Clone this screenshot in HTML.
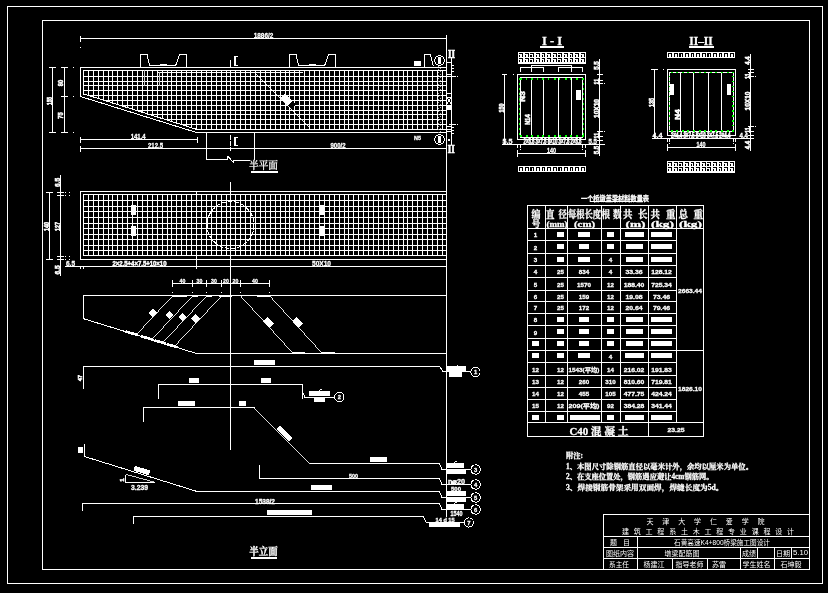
<!DOCTYPE html>
<html lang="zh"><head><meta charset="utf-8"><title>墩梁配筋图</title>
<style>
html,body{margin:0;padding:0;background:#000;overflow:hidden}
svg{display:block}
text{font-family:"Liberation Sans","Noto Sans CJK SC",sans-serif;fill:#fff;white-space:pre}
text.s{font-family:"Liberation Serif","Noto Serif CJK SC",serif}
text.b{font-weight:bold;stroke:#fff;stroke-width:.3px}
text.m{font-weight:500;stroke:#fff;stroke-width:.25px}
</style></head><body>
<svg width="828" height="593" viewBox="0 0 828 593">
<rect width="828" height="593" fill="#000"/>
<g fill="#fff" shape-rendering="crispEdges">
<rect x="7" y="6" width="816" height="1"/>
<rect x="7" y="583" width="816" height="1"/>
<rect x="7" y="6" width="1" height="578"/>
<rect x="822" y="6" width="1" height="578"/>
<rect x="42" y="20" width="768" height="1"/>
<rect x="42" y="569" width="768" height="1"/>
<rect x="42" y="20" width="1" height="550"/>
<rect x="809" y="20" width="1" height="550"/>
<rect x="80" y="38" width="367" height="1"/>
<rect x="80" y="36" width="1" height="6"/>
<rect x="80" y="47" width="1" height="1"/>
<rect x="80" y="67" width="367" height="1"/>
<rect x="80" y="67" width="1" height="30"/>
<rect x="196" y="132" width="251" height="1"/>
<rect x="83" y="70" width="1" height="25"/>
<rect x="88" y="70" width="1" height="26"/>
<rect x="93" y="70" width="1" height="28"/>
<rect x="98" y="70" width="1" height="29"/>
<rect x="103" y="70" width="1" height="31"/>
<rect x="108" y="70" width="1" height="32"/>
<rect x="112" y="70" width="1" height="34"/>
<rect x="117" y="70" width="1" height="35"/>
<rect x="122" y="70" width="1" height="37"/>
<rect x="127" y="70" width="1" height="38"/>
<rect x="132" y="70" width="1" height="40"/>
<rect x="137" y="70" width="1" height="41"/>
<rect x="142" y="70" width="1" height="43"/>
<rect x="147" y="70" width="1" height="45"/>
<rect x="152" y="70" width="1" height="46"/>
<rect x="157" y="70" width="1" height="48"/>
<rect x="162" y="70" width="1" height="49"/>
<rect x="167" y="70" width="1" height="51"/>
<rect x="171" y="70" width="1" height="52"/>
<rect x="176" y="70" width="1" height="54"/>
<rect x="181" y="70" width="1" height="55"/>
<rect x="186" y="70" width="1" height="57"/>
<rect x="191" y="70" width="1" height="58"/>
<rect x="196" y="70" width="1" height="60"/>
<rect x="201" y="70" width="1" height="60"/>
<rect x="206" y="70" width="1" height="60"/>
<rect x="211" y="70" width="1" height="60"/>
<rect x="216" y="70" width="1" height="60"/>
<rect x="221" y="70" width="1" height="60"/>
<rect x="226" y="70" width="1" height="60"/>
<rect x="230" y="70" width="1" height="60"/>
<rect x="235" y="70" width="1" height="60"/>
<rect x="240" y="70" width="1" height="60"/>
<rect x="245" y="70" width="1" height="60"/>
<rect x="250" y="70" width="1" height="60"/>
<rect x="255" y="70" width="1" height="60"/>
<rect x="260" y="70" width="1" height="60"/>
<rect x="265" y="70" width="1" height="60"/>
<rect x="270" y="70" width="1" height="60"/>
<rect x="275" y="70" width="1" height="60"/>
<rect x="280" y="70" width="1" height="60"/>
<rect x="285" y="70" width="1" height="60"/>
<rect x="289" y="70" width="1" height="60"/>
<rect x="294" y="70" width="1" height="60"/>
<rect x="299" y="70" width="1" height="60"/>
<rect x="304" y="70" width="1" height="60"/>
<rect x="309" y="70" width="1" height="60"/>
<rect x="314" y="70" width="1" height="60"/>
<rect x="319" y="70" width="1" height="60"/>
<rect x="324" y="70" width="1" height="60"/>
<rect x="329" y="70" width="1" height="60"/>
<rect x="334" y="70" width="1" height="60"/>
<rect x="339" y="70" width="1" height="60"/>
<rect x="344" y="70" width="1" height="60"/>
<rect x="348" y="70" width="1" height="60"/>
<rect x="353" y="70" width="1" height="60"/>
<rect x="358" y="70" width="1" height="60"/>
<rect x="363" y="70" width="1" height="60"/>
<rect x="368" y="70" width="1" height="60"/>
<rect x="373" y="70" width="1" height="60"/>
<rect x="378" y="70" width="1" height="60"/>
<rect x="383" y="70" width="1" height="60"/>
<rect x="388" y="70" width="1" height="60"/>
<rect x="393" y="70" width="1" height="60"/>
<rect x="398" y="70" width="1" height="60"/>
<rect x="403" y="70" width="1" height="60"/>
<rect x="407" y="70" width="1" height="60"/>
<rect x="412" y="70" width="1" height="60"/>
<rect x="417" y="70" width="1" height="60"/>
<rect x="422" y="70" width="1" height="60"/>
<rect x="427" y="70" width="1" height="60"/>
<rect x="432" y="70" width="1" height="60"/>
<rect x="437" y="70" width="1" height="60"/>
<rect x="442" y="70" width="1" height="60"/>
<rect x="83" y="70" width="363" height="1"/>
<rect x="83" y="76" width="363" height="1"/>
<rect x="83" y="81" width="363" height="1"/>
<rect x="83" y="85" width="363" height="1"/>
<rect x="83" y="90" width="363" height="1"/>
<rect x="88" y="95" width="358" height="1"/>
<rect x="104" y="100" width="342" height="1"/>
<rect x="120" y="105" width="326" height="1"/>
<rect x="136" y="110" width="310" height="1"/>
<rect x="148" y="114" width="298" height="1"/>
<rect x="164" y="119" width="282" height="1"/>
<rect x="180" y="124" width="266" height="1"/>
<rect x="196" y="129" width="250" height="1"/>
<rect x="158" y="72" width="145" height="1"/>
<rect x="160" y="64" width="7" height="1"/>
<rect x="309" y="64" width="7" height="1"/>
<rect x="414" y="61" width="7" height="5"/>
<rect x="144" y="70" width="1" height="16" fill="#ccc"/>
<rect x="159" y="72" width="1" height="14" fill="#ccc"/>
<rect x="438" y="57" width="3" height="7"/>
<rect x="438" y="136" width="3" height="7"/>
<rect x="230" y="60" width="1" height="7"/>
<rect x="234" y="56" width="2" height="10"/>
<rect x="234" y="56" width="4" height="1"/>
<rect x="234" y="65" width="4" height="1"/>
<rect x="230" y="135" width="1" height="5"/>
<rect x="230" y="141" width="1" height="5"/>
<rect x="230" y="147" width="1" height="4"/>
<rect x="234" y="137" width="2" height="9"/>
<rect x="234" y="137" width="4" height="1"/>
<rect x="234" y="145" width="4" height="1"/>
<rect x="451" y="57" width="1" height="88"/>
<rect x="447" y="62" width="4" height="1"/>
<rect x="447" y="74" width="4" height="1"/>
<rect x="447" y="76" width="4" height="1"/>
<rect x="447" y="93" width="4" height="1"/>
<rect x="447" y="97" width="4" height="1"/>
<rect x="447" y="109" width="4" height="1"/>
<rect x="447" y="126" width="4" height="1"/>
<rect x="447" y="129" width="4" height="1"/>
<rect x="447" y="131" width="4" height="1"/>
<rect x="447" y="104.5" width="4" height="4.2"/>
<rect x="452" y="65" width="2" height="1"/>
<rect x="452" y="68" width="2" height="1"/>
<rect x="452" y="71" width="2" height="1"/>
<rect x="452" y="76" width="4" height="1"/>
<rect x="457" y="76" width="1" height="1"/>
<rect x="452" y="127" width="2" height="1"/>
<rect x="452" y="130" width="2" height="1"/>
<rect x="452" y="133" width="2" height="1"/>
<rect x="449" y="124" width="7" height="1"/>
<rect x="457" y="124" width="1" height="1"/>
<rect x="448" y="139" width="2" height="2"/>
<rect x="52" y="67" width="1" height="66"/>
<rect x="64" y="67" width="1" height="66"/>
<rect x="49" y="67" width="7" height="1"/>
<rect x="61" y="67" width="7" height="1"/>
<rect x="49" y="132" width="7" height="1"/>
<rect x="61" y="132" width="7" height="1"/>
<rect x="61" y="96" width="7" height="1"/>
<rect x="73" y="67" width="1" height="1"/>
<rect x="73" y="96" width="1" height="1"/>
<rect x="73" y="132" width="1" height="1"/>
<rect x="80" y="139" width="118" height="1"/>
<rect x="80" y="137" width="1" height="6"/>
<rect x="197" y="137" width="1" height="6"/>
<rect x="80" y="148" width="367" height="1"/>
<rect x="80" y="146" width="1" height="6"/>
<rect x="228" y="148" width="6" height="1"/>
<rect x="206" y="132" width="1" height="28"/>
<rect x="254" y="132" width="1" height="28"/>
<rect x="251" y="171" width="27" height="1.5"/>
<rect x="80" y="191" width="367" height="1"/>
<rect x="80" y="259" width="367" height="1"/>
<rect x="80" y="191" width="1" height="69"/>
<rect x="83" y="194" width="1" height="62"/>
<rect x="88" y="194" width="1" height="62"/>
<rect x="93" y="194" width="1" height="62"/>
<rect x="98" y="194" width="1" height="62"/>
<rect x="103" y="194" width="1" height="62"/>
<rect x="108" y="194" width="1" height="62"/>
<rect x="112" y="194" width="1" height="62"/>
<rect x="117" y="194" width="1" height="62"/>
<rect x="122" y="194" width="1" height="62"/>
<rect x="127" y="194" width="1" height="62"/>
<rect x="132" y="194" width="1" height="62"/>
<rect x="137" y="194" width="1" height="62"/>
<rect x="142" y="194" width="1" height="62"/>
<rect x="147" y="194" width="1" height="62"/>
<rect x="152" y="194" width="1" height="62"/>
<rect x="157" y="194" width="1" height="62"/>
<rect x="162" y="194" width="1" height="62"/>
<rect x="167" y="194" width="1" height="62"/>
<rect x="171" y="194" width="1" height="62"/>
<rect x="176" y="194" width="1" height="62"/>
<rect x="181" y="194" width="1" height="62"/>
<rect x="186" y="194" width="1" height="62"/>
<rect x="191" y="194" width="1" height="62"/>
<rect x="196" y="194" width="1" height="62"/>
<rect x="201" y="194" width="1" height="62"/>
<rect x="206" y="194" width="1" height="62"/>
<rect x="211" y="194" width="1" height="62"/>
<rect x="216" y="194" width="1" height="62"/>
<rect x="221" y="194" width="1" height="62"/>
<rect x="226" y="194" width="1" height="62"/>
<rect x="230" y="194" width="1" height="62"/>
<rect x="235" y="194" width="1" height="62"/>
<rect x="240" y="194" width="1" height="62"/>
<rect x="245" y="194" width="1" height="62"/>
<rect x="250" y="194" width="1" height="62"/>
<rect x="255" y="194" width="1" height="62"/>
<rect x="260" y="194" width="1" height="62"/>
<rect x="265" y="194" width="1" height="62"/>
<rect x="270" y="194" width="1" height="62"/>
<rect x="275" y="194" width="1" height="62"/>
<rect x="280" y="194" width="1" height="62"/>
<rect x="285" y="194" width="1" height="62"/>
<rect x="289" y="194" width="1" height="62"/>
<rect x="294" y="194" width="1" height="62"/>
<rect x="299" y="194" width="1" height="62"/>
<rect x="304" y="194" width="1" height="62"/>
<rect x="309" y="194" width="1" height="62"/>
<rect x="314" y="194" width="1" height="62"/>
<rect x="319" y="194" width="1" height="62"/>
<rect x="324" y="194" width="1" height="62"/>
<rect x="329" y="194" width="1" height="62"/>
<rect x="334" y="194" width="1" height="62"/>
<rect x="339" y="194" width="1" height="62"/>
<rect x="344" y="194" width="1" height="62"/>
<rect x="348" y="194" width="1" height="62"/>
<rect x="353" y="194" width="1" height="62"/>
<rect x="358" y="194" width="1" height="62"/>
<rect x="363" y="194" width="1" height="62"/>
<rect x="368" y="194" width="1" height="62"/>
<rect x="373" y="194" width="1" height="62"/>
<rect x="378" y="194" width="1" height="62"/>
<rect x="383" y="194" width="1" height="62"/>
<rect x="388" y="194" width="1" height="62"/>
<rect x="393" y="194" width="1" height="62"/>
<rect x="398" y="194" width="1" height="62"/>
<rect x="403" y="194" width="1" height="62"/>
<rect x="407" y="194" width="1" height="62"/>
<rect x="412" y="194" width="1" height="62"/>
<rect x="417" y="194" width="1" height="62"/>
<rect x="422" y="194" width="1" height="62"/>
<rect x="427" y="194" width="1" height="62"/>
<rect x="432" y="194" width="1" height="62"/>
<rect x="437" y="194" width="1" height="62"/>
<rect x="442" y="194" width="1" height="62"/>
<rect x="196" y="191" width="1" height="78"/>
<rect x="83" y="194" width="363" height="1"/>
<rect x="83" y="200" width="363" height="1"/>
<rect x="83" y="206" width="363" height="1"/>
<rect x="83" y="211" width="363" height="1"/>
<rect x="83" y="217" width="363" height="1"/>
<rect x="83" y="223" width="363" height="1"/>
<rect x="83" y="228" width="363" height="1"/>
<rect x="83" y="234" width="363" height="1"/>
<rect x="83" y="239" width="363" height="1"/>
<rect x="83" y="245" width="363" height="1"/>
<rect x="83" y="250" width="363" height="1"/>
<rect x="83" y="255" width="363" height="1"/>
<rect x="230" y="182" width="1" height="268"/>
<rect x="131" y="205" width="5" height="10"/>
<rect x="131" y="226" width="5" height="10"/>
<rect x="320" y="205" width="5" height="10"/>
<rect x="320" y="226" width="5" height="10"/>
<rect x="49" y="192" width="1" height="68"/>
<rect x="46" y="192" width="7" height="1"/>
<rect x="46" y="259" width="7" height="1"/>
<rect x="60" y="175" width="1" height="101"/>
<rect x="57" y="192" width="7" height="1"/>
<rect x="57" y="195" width="7" height="1"/>
<rect x="57" y="256" width="7" height="1"/>
<rect x="57" y="259" width="7" height="1"/>
<rect x="65" y="192" width="1" height="1"/>
<rect x="69" y="192" width="1" height="1"/>
<rect x="65" y="195" width="1" height="1"/>
<rect x="69" y="195" width="1" height="1"/>
<rect x="65" y="256" width="1" height="1"/>
<rect x="69" y="256" width="1" height="1"/>
<rect x="65" y="259" width="1" height="1"/>
<rect x="69" y="259" width="1" height="1"/>
<rect x="65" y="266" width="382" height="1"/>
<rect x="80" y="266" width="1" height="3"/>
<rect x="83" y="266" width="1" height="3"/>
<rect x="172" y="283" width="98" height="1"/>
<rect x="172" y="280" width="1" height="7"/>
<rect x="192" y="280" width="1" height="7"/>
<rect x="206" y="280" width="1" height="7"/>
<rect x="221" y="280" width="1" height="7"/>
<rect x="230" y="280" width="1" height="7"/>
<rect x="240" y="280" width="1" height="7"/>
<rect x="269" y="280" width="1" height="7"/>
<rect x="172" y="292" width="1" height="1"/>
<rect x="192" y="292" width="1" height="1"/>
<rect x="206" y="292" width="1" height="1"/>
<rect x="221" y="292" width="1" height="1"/>
<rect x="240" y="292" width="1" height="1"/>
<rect x="269" y="292" width="1" height="1"/>
<rect x="83" y="295" width="364" height="1"/>
<rect x="83" y="295" width="1" height="24"/>
<rect x="196" y="353" width="251" height="1"/>
<rect x="172" y="296" width="15" height="1"/>
<rect x="219" y="296" width="13" height="1"/>
<rect x="257" y="296" width="13" height="1"/>
<rect x="192" y="296" width="6" height="1"/>
<rect x="206" y="296" width="6" height="1"/>
<rect x="292" y="352" width="13" height="1"/>
<rect x="321" y="352" width="14" height="1"/>
<rect x="83" y="366" width="357" height="1"/>
<rect x="83" y="366" width="1" height="23"/>
<rect x="447" y="366" width="19" height="5"/>
<rect x="449" y="372" width="13" height="5"/>
<rect x="254" y="360" width="21" height="5"/>
<rect x="158" y="384" width="145" height="1"/>
<rect x="158" y="384" width="1" height="15"/>
<rect x="302" y="384" width="1" height="15"/>
<rect x="309" y="391" width="21" height="5"/>
<rect x="314" y="397" width="11" height="5"/>
<rect x="189" y="378" width="10" height="5"/>
<rect x="261" y="378" width="10" height="5"/>
<rect x="143" y="407" width="112" height="1"/>
<rect x="143" y="407" width="1" height="15"/>
<rect x="310" y="463" width="130" height="1"/>
<rect x="178" y="401" width="17" height="5"/>
<rect x="239" y="401" width="7" height="5"/>
<rect x="370" y="457" width="17" height="5"/>
<rect x="447" y="463" width="17" height="5"/>
<rect x="447" y="470" width="19" height="4"/>
<rect x="259" y="465" width="1" height="14"/>
<rect x="259" y="478" width="181" height="1"/>
<rect x="84" y="444" width="1" height="13"/>
<rect x="196" y="491" width="244" height="1"/>
<rect x="78" y="447" width="5" height="6"/>
<rect x="311" y="485" width="21" height="5"/>
<rect x="447" y="491" width="19" height="5"/>
<rect x="447" y="498" width="19" height="4"/>
<rect x="82" y="503" width="358" height="1"/>
<rect x="82" y="503" width="1" height="8"/>
<rect x="447" y="504" width="17" height="5"/>
<rect x="133" y="516" width="291" height="1"/>
<rect x="133" y="516" width="1" height="8"/>
<rect x="267" y="510" width="45" height="5"/>
<rect x="429" y="523" width="31" height="4"/>
<rect x="446" y="35" width="1" height="482"/>
<rect x="251" y="557" width="26" height="1.5"/>
<rect x="540" y="46" width="24" height="2"/>
<rect x="518" y="52" width="68" height="12"/>
<rect x="519.1" y="52.8" width="3.9" height="1.1" fill="#000"/>
<rect x="521.9" y="52.8" width="1.1" height="4.1" fill="#000"/>
<rect x="519.1" y="55.2" width="1.2" height="1.7" fill="#000"/>
<rect x="524.7" y="52.8" width="3.9" height="1.1" fill="#000"/>
<rect x="527.5" y="52.8" width="1.1" height="4.1" fill="#000"/>
<rect x="524.7" y="55.2" width="1.2" height="1.7" fill="#000"/>
<rect x="530.3" y="52.8" width="3.9" height="1.1" fill="#000"/>
<rect x="533.1" y="52.8" width="1.1" height="4.1" fill="#000"/>
<rect x="530.3" y="55.2" width="1.2" height="1.7" fill="#000"/>
<rect x="535.9" y="52.8" width="3.9" height="1.1" fill="#000"/>
<rect x="538.7" y="52.8" width="1.1" height="4.1" fill="#000"/>
<rect x="535.9" y="55.2" width="1.2" height="1.7" fill="#000"/>
<rect x="541.5" y="52.8" width="3.9" height="1.1" fill="#000"/>
<rect x="544.3" y="52.8" width="1.1" height="4.1" fill="#000"/>
<rect x="541.5" y="55.2" width="1.2" height="1.7" fill="#000"/>
<rect x="547.1" y="52.8" width="3.9" height="1.1" fill="#000"/>
<rect x="549.9" y="52.8" width="1.1" height="4.1" fill="#000"/>
<rect x="547.1" y="55.2" width="1.2" height="1.7" fill="#000"/>
<rect x="552.7" y="52.8" width="3.9" height="1.1" fill="#000"/>
<rect x="555.5" y="52.8" width="1.1" height="4.1" fill="#000"/>
<rect x="552.7" y="55.2" width="1.2" height="1.7" fill="#000"/>
<rect x="558.3" y="52.8" width="3.9" height="1.1" fill="#000"/>
<rect x="561.1" y="52.8" width="1.1" height="4.1" fill="#000"/>
<rect x="558.3" y="55.2" width="1.2" height="1.7" fill="#000"/>
<rect x="563.9" y="52.8" width="3.9" height="1.1" fill="#000"/>
<rect x="566.7" y="52.8" width="1.1" height="4.1" fill="#000"/>
<rect x="563.9" y="55.2" width="1.2" height="1.7" fill="#000"/>
<rect x="569.5" y="52.8" width="3.9" height="1.1" fill="#000"/>
<rect x="572.3" y="52.8" width="1.1" height="4.1" fill="#000"/>
<rect x="569.5" y="55.2" width="1.2" height="1.7" fill="#000"/>
<rect x="575.1" y="52.8" width="3.9" height="1.1" fill="#000"/>
<rect x="577.9" y="52.8" width="1.1" height="4.1" fill="#000"/>
<rect x="575.1" y="55.2" width="1.2" height="1.7" fill="#000"/>
<rect x="580.7" y="52.8" width="3.9" height="1.1" fill="#000"/>
<rect x="583.5" y="52.8" width="1.1" height="4.1" fill="#000"/>
<rect x="580.7" y="55.2" width="1.2" height="1.7" fill="#000"/>
<rect x="519.1" y="58" width="3.9" height="1.1" fill="#000"/>
<rect x="521.9" y="58" width="1.1" height="4.1" fill="#000"/>
<rect x="519.1" y="60.4" width="1.2" height="1.7" fill="#000"/>
<rect x="524.7" y="58" width="3.9" height="1.1" fill="#000"/>
<rect x="527.5" y="58" width="1.1" height="4.1" fill="#000"/>
<rect x="524.7" y="60.4" width="1.2" height="1.7" fill="#000"/>
<rect x="530.3" y="58" width="3.9" height="1.1" fill="#000"/>
<rect x="533.1" y="58" width="1.1" height="4.1" fill="#000"/>
<rect x="530.3" y="60.4" width="1.2" height="1.7" fill="#000"/>
<rect x="535.9" y="58" width="3.9" height="1.1" fill="#000"/>
<rect x="538.7" y="58" width="1.1" height="4.1" fill="#000"/>
<rect x="535.9" y="60.4" width="1.2" height="1.7" fill="#000"/>
<rect x="541.5" y="58" width="3.9" height="1.1" fill="#000"/>
<rect x="544.3" y="58" width="1.1" height="4.1" fill="#000"/>
<rect x="541.5" y="60.4" width="1.2" height="1.7" fill="#000"/>
<rect x="547.1" y="58" width="3.9" height="1.1" fill="#000"/>
<rect x="549.9" y="58" width="1.1" height="4.1" fill="#000"/>
<rect x="547.1" y="60.4" width="1.2" height="1.7" fill="#000"/>
<rect x="552.7" y="58" width="3.9" height="1.1" fill="#000"/>
<rect x="555.5" y="58" width="1.1" height="4.1" fill="#000"/>
<rect x="552.7" y="60.4" width="1.2" height="1.7" fill="#000"/>
<rect x="558.3" y="58" width="3.9" height="1.1" fill="#000"/>
<rect x="561.1" y="58" width="1.1" height="4.1" fill="#000"/>
<rect x="558.3" y="60.4" width="1.2" height="1.7" fill="#000"/>
<rect x="563.9" y="58" width="3.9" height="1.1" fill="#000"/>
<rect x="566.7" y="58" width="1.1" height="4.1" fill="#000"/>
<rect x="563.9" y="60.4" width="1.2" height="1.7" fill="#000"/>
<rect x="569.5" y="58" width="3.9" height="1.1" fill="#000"/>
<rect x="572.3" y="58" width="1.1" height="4.1" fill="#000"/>
<rect x="569.5" y="60.4" width="1.2" height="1.7" fill="#000"/>
<rect x="575.1" y="58" width="3.9" height="1.1" fill="#000"/>
<rect x="577.9" y="58" width="1.1" height="4.1" fill="#000"/>
<rect x="575.1" y="60.4" width="1.2" height="1.7" fill="#000"/>
<rect x="580.7" y="58" width="3.9" height="1.1" fill="#000"/>
<rect x="583.5" y="58" width="1.1" height="4.1" fill="#000"/>
<rect x="580.7" y="60.4" width="1.2" height="1.7" fill="#000"/>
<rect x="518" y="166.3" width="68" height="6"/>
<rect x="519.1" y="167.1" width="3.9" height="1.1" fill="#000"/>
<rect x="521.9" y="167.1" width="1.1" height="4.1" fill="#000"/>
<rect x="519.1" y="167.1" width="1.2" height="4.1" fill="#000"/>
<rect x="524.7" y="167.1" width="3.9" height="1.1" fill="#000"/>
<rect x="527.5" y="167.1" width="1.1" height="4.1" fill="#000"/>
<rect x="524.7" y="167.1" width="1.2" height="4.1" fill="#000"/>
<rect x="530.3" y="167.1" width="3.9" height="1.1" fill="#000"/>
<rect x="533.1" y="167.1" width="1.1" height="4.1" fill="#000"/>
<rect x="530.3" y="167.1" width="1.2" height="4.1" fill="#000"/>
<rect x="535.9" y="167.1" width="3.9" height="1.1" fill="#000"/>
<rect x="538.7" y="167.1" width="1.1" height="4.1" fill="#000"/>
<rect x="535.9" y="167.1" width="1.2" height="4.1" fill="#000"/>
<rect x="541.5" y="167.1" width="3.9" height="1.1" fill="#000"/>
<rect x="544.3" y="167.1" width="1.1" height="4.1" fill="#000"/>
<rect x="541.5" y="167.1" width="1.2" height="4.1" fill="#000"/>
<rect x="547.1" y="167.1" width="3.9" height="1.1" fill="#000"/>
<rect x="549.9" y="167.1" width="1.1" height="4.1" fill="#000"/>
<rect x="547.1" y="167.1" width="1.2" height="4.1" fill="#000"/>
<rect x="552.7" y="167.1" width="3.9" height="1.1" fill="#000"/>
<rect x="555.5" y="167.1" width="1.1" height="4.1" fill="#000"/>
<rect x="552.7" y="167.1" width="1.2" height="4.1" fill="#000"/>
<rect x="558.3" y="167.1" width="3.9" height="1.1" fill="#000"/>
<rect x="561.1" y="167.1" width="1.1" height="4.1" fill="#000"/>
<rect x="558.3" y="167.1" width="1.2" height="4.1" fill="#000"/>
<rect x="563.9" y="167.1" width="3.9" height="1.1" fill="#000"/>
<rect x="566.7" y="167.1" width="1.1" height="4.1" fill="#000"/>
<rect x="563.9" y="167.1" width="1.2" height="4.1" fill="#000"/>
<rect x="569.5" y="167.1" width="3.9" height="1.1" fill="#000"/>
<rect x="572.3" y="167.1" width="1.1" height="4.1" fill="#000"/>
<rect x="569.5" y="167.1" width="1.2" height="4.1" fill="#000"/>
<rect x="575.1" y="167.1" width="3.9" height="1.1" fill="#000"/>
<rect x="577.9" y="167.1" width="1.1" height="4.1" fill="#000"/>
<rect x="575.1" y="167.1" width="1.2" height="4.1" fill="#000"/>
<rect x="580.7" y="167.1" width="3.9" height="1.1" fill="#000"/>
<rect x="583.5" y="167.1" width="1.1" height="4.1" fill="#000"/>
<rect x="580.7" y="167.1" width="1.2" height="4.1" fill="#000"/>
<rect x="517" y="74" width="69" height="1"/>
<rect x="517" y="139" width="69" height="1"/>
<rect x="517" y="74" width="1" height="66"/>
<rect x="585" y="74" width="1" height="66"/>
<rect x="520" y="77" width="63" height="1"/>
<rect x="520" y="137" width="63" height="1"/>
<rect x="520" y="77" width="1" height="61"/>
<rect x="582" y="77" width="1" height="61"/>
<rect x="531" y="77" width="1" height="61"/>
<rect x="543" y="77" width="1" height="61"/>
<rect x="558" y="77" width="1" height="61"/>
<rect x="571" y="77" width="1" height="61"/>
<rect x="520" y="78" width="2" height="2" fill="#0f0"/>
<rect x="520" y="135" width="2" height="2" fill="#0f0"/>
<rect x="525.6" y="78" width="1" height="2" fill="#0f0"/>
<rect x="525.6" y="135" width="2" height="2" fill="#0f0"/>
<rect x="531.2" y="78" width="2" height="2" fill="#0f0"/>
<rect x="531.2" y="135" width="2" height="2" fill="#0f0"/>
<rect x="536.8" y="78" width="1" height="2" fill="#0f0"/>
<rect x="536.8" y="135" width="2" height="2" fill="#0f0"/>
<rect x="542.4" y="78" width="2" height="2" fill="#0f0"/>
<rect x="542.4" y="135" width="2" height="2" fill="#0f0"/>
<rect x="548" y="78" width="1" height="2" fill="#0f0"/>
<rect x="548" y="135" width="2" height="2" fill="#0f0"/>
<rect x="553.6" y="78" width="2" height="2" fill="#0f0"/>
<rect x="553.6" y="135" width="2" height="2" fill="#0f0"/>
<rect x="559.2" y="78" width="1" height="2" fill="#0f0"/>
<rect x="559.2" y="135" width="2" height="2" fill="#0f0"/>
<rect x="564.8" y="78" width="2" height="2" fill="#0f0"/>
<rect x="564.8" y="135" width="2" height="2" fill="#0f0"/>
<rect x="570.4" y="78" width="1" height="2" fill="#0f0"/>
<rect x="570.4" y="135" width="2" height="2" fill="#0f0"/>
<rect x="576" y="78" width="2" height="2" fill="#0f0"/>
<rect x="576" y="135" width="2" height="2" fill="#0f0"/>
<rect x="581.6" y="78" width="1" height="2" fill="#0f0"/>
<rect x="581.6" y="135" width="2" height="2" fill="#0f0"/>
<rect x="518.7" y="78" width="1.3" height="1.5" fill="#0f0"/>
<rect x="583" y="78" width="1.3" height="1.5" fill="#0f0"/>
<rect x="518.7" y="83" width="1.3" height="1.5" fill="#0f0"/>
<rect x="583" y="83" width="1.3" height="1.5" fill="#0f0"/>
<rect x="518.7" y="88" width="1.3" height="1.5" fill="#0f0"/>
<rect x="583" y="88" width="1.3" height="1.5" fill="#0f0"/>
<rect x="518.7" y="93" width="1.3" height="1.5" fill="#0f0"/>
<rect x="583" y="93" width="1.3" height="1.5" fill="#0f0"/>
<rect x="518.7" y="98" width="1.3" height="1.5" fill="#0f0"/>
<rect x="583" y="98" width="1.3" height="1.5" fill="#0f0"/>
<rect x="518.7" y="103" width="1.3" height="1.5" fill="#0f0"/>
<rect x="583" y="103" width="1.3" height="1.5" fill="#0f0"/>
<rect x="518.7" y="108" width="1.3" height="1.5" fill="#0f0"/>
<rect x="583" y="108" width="1.3" height="1.5" fill="#0f0"/>
<rect x="518.7" y="113" width="1.3" height="1.5" fill="#0f0"/>
<rect x="583" y="113" width="1.3" height="1.5" fill="#0f0"/>
<rect x="518.7" y="118" width="1.3" height="1.5" fill="#0f0"/>
<rect x="583" y="118" width="1.3" height="1.5" fill="#0f0"/>
<rect x="518.7" y="123" width="1.3" height="1.5" fill="#0f0"/>
<rect x="583" y="123" width="1.3" height="1.5" fill="#0f0"/>
<rect x="518.7" y="128" width="1.3" height="1.5" fill="#0f0"/>
<rect x="583" y="128" width="1.3" height="1.5" fill="#0f0"/>
<rect x="518.7" y="133" width="1.3" height="1.5" fill="#0f0"/>
<rect x="583" y="133" width="1.3" height="1.5" fill="#0f0"/>
<rect x="576" y="90" width="5" height="10"/>
<rect x="504" y="74" width="1" height="71"/>
<rect x="502" y="74" width="5" height="1"/>
<rect x="513" y="74" width="1" height="1"/>
<rect x="502" y="144" width="103" height="1"/>
<rect x="517" y="144" width="1" height="4"/>
<rect x="520" y="144" width="1" height="4"/>
<rect x="582" y="144" width="1" height="4"/>
<rect x="585" y="144" width="1" height="4"/>
<rect x="520" y="149" width="1" height="1"/>
<rect x="582" y="149" width="1" height="1"/>
<rect x="517" y="153" width="69" height="1"/>
<rect x="517" y="150" width="1" height="7"/>
<rect x="585" y="150" width="1" height="7"/>
<rect x="599" y="59" width="1" height="97"/>
<rect x="597" y="74" width="6" height="1"/>
<rect x="597" y="80" width="6" height="1"/>
<rect x="597" y="83" width="6" height="1"/>
<rect x="597" y="131" width="6" height="1"/>
<rect x="597" y="136" width="6" height="1"/>
<rect x="597" y="140" width="6" height="1"/>
<rect x="597" y="144" width="6" height="1"/>
<rect x="604" y="83" width="1" height="1"/>
<rect x="604" y="131" width="1" height="1"/>
<rect x="689" y="46" width="25" height="2"/>
<rect x="667" y="52" width="68" height="6"/>
<rect x="668.1" y="52.8" width="3.9" height="1.1" fill="#000"/>
<rect x="670.9" y="52.8" width="1.1" height="4.1" fill="#000"/>
<rect x="668.1" y="52.8" width="1.2" height="4.1" fill="#000"/>
<rect x="673.7" y="52.8" width="3.9" height="1.1" fill="#000"/>
<rect x="676.5" y="52.8" width="1.1" height="4.1" fill="#000"/>
<rect x="673.7" y="52.8" width="1.2" height="4.1" fill="#000"/>
<rect x="679.3" y="52.8" width="3.9" height="1.1" fill="#000"/>
<rect x="682.1" y="52.8" width="1.1" height="4.1" fill="#000"/>
<rect x="679.3" y="52.8" width="1.2" height="4.1" fill="#000"/>
<rect x="684.9" y="52.8" width="3.9" height="1.1" fill="#000"/>
<rect x="687.7" y="52.8" width="1.1" height="4.1" fill="#000"/>
<rect x="684.9" y="52.8" width="1.2" height="4.1" fill="#000"/>
<rect x="690.5" y="52.8" width="3.9" height="1.1" fill="#000"/>
<rect x="693.3" y="52.8" width="1.1" height="4.1" fill="#000"/>
<rect x="690.5" y="52.8" width="1.2" height="4.1" fill="#000"/>
<rect x="696.1" y="52.8" width="3.9" height="1.1" fill="#000"/>
<rect x="698.9" y="52.8" width="1.1" height="4.1" fill="#000"/>
<rect x="696.1" y="52.8" width="1.2" height="4.1" fill="#000"/>
<rect x="701.7" y="52.8" width="3.9" height="1.1" fill="#000"/>
<rect x="704.5" y="52.8" width="1.1" height="4.1" fill="#000"/>
<rect x="701.7" y="52.8" width="1.2" height="4.1" fill="#000"/>
<rect x="707.3" y="52.8" width="3.9" height="1.1" fill="#000"/>
<rect x="710.1" y="52.8" width="1.1" height="4.1" fill="#000"/>
<rect x="707.3" y="52.8" width="1.2" height="4.1" fill="#000"/>
<rect x="712.9" y="52.8" width="3.9" height="1.1" fill="#000"/>
<rect x="715.7" y="52.8" width="1.1" height="4.1" fill="#000"/>
<rect x="712.9" y="52.8" width="1.2" height="4.1" fill="#000"/>
<rect x="718.5" y="52.8" width="3.9" height="1.1" fill="#000"/>
<rect x="721.3" y="52.8" width="1.1" height="4.1" fill="#000"/>
<rect x="718.5" y="52.8" width="1.2" height="4.1" fill="#000"/>
<rect x="724.1" y="52.8" width="3.9" height="1.1" fill="#000"/>
<rect x="726.9" y="52.8" width="1.1" height="4.1" fill="#000"/>
<rect x="724.1" y="52.8" width="1.2" height="4.1" fill="#000"/>
<rect x="729.7" y="52.8" width="3.9" height="1.1" fill="#000"/>
<rect x="732.5" y="52.8" width="1.1" height="4.1" fill="#000"/>
<rect x="729.7" y="52.8" width="1.2" height="4.1" fill="#000"/>
<rect x="667" y="160.7" width="68" height="12"/>
<rect x="668.1" y="161.5" width="3.9" height="1.1" fill="#000"/>
<rect x="670.9" y="161.5" width="1.1" height="4.1" fill="#000"/>
<rect x="668.1" y="163.9" width="1.2" height="1.7" fill="#000"/>
<rect x="673.7" y="161.5" width="3.9" height="1.1" fill="#000"/>
<rect x="676.5" y="161.5" width="1.1" height="4.1" fill="#000"/>
<rect x="673.7" y="163.9" width="1.2" height="1.7" fill="#000"/>
<rect x="679.3" y="161.5" width="3.9" height="1.1" fill="#000"/>
<rect x="682.1" y="161.5" width="1.1" height="4.1" fill="#000"/>
<rect x="679.3" y="163.9" width="1.2" height="1.7" fill="#000"/>
<rect x="684.9" y="161.5" width="3.9" height="1.1" fill="#000"/>
<rect x="687.7" y="161.5" width="1.1" height="4.1" fill="#000"/>
<rect x="684.9" y="163.9" width="1.2" height="1.7" fill="#000"/>
<rect x="690.5" y="161.5" width="3.9" height="1.1" fill="#000"/>
<rect x="693.3" y="161.5" width="1.1" height="4.1" fill="#000"/>
<rect x="690.5" y="163.9" width="1.2" height="1.7" fill="#000"/>
<rect x="696.1" y="161.5" width="3.9" height="1.1" fill="#000"/>
<rect x="698.9" y="161.5" width="1.1" height="4.1" fill="#000"/>
<rect x="696.1" y="163.9" width="1.2" height="1.7" fill="#000"/>
<rect x="701.7" y="161.5" width="3.9" height="1.1" fill="#000"/>
<rect x="704.5" y="161.5" width="1.1" height="4.1" fill="#000"/>
<rect x="701.7" y="163.9" width="1.2" height="1.7" fill="#000"/>
<rect x="707.3" y="161.5" width="3.9" height="1.1" fill="#000"/>
<rect x="710.1" y="161.5" width="1.1" height="4.1" fill="#000"/>
<rect x="707.3" y="163.9" width="1.2" height="1.7" fill="#000"/>
<rect x="712.9" y="161.5" width="3.9" height="1.1" fill="#000"/>
<rect x="715.7" y="161.5" width="1.1" height="4.1" fill="#000"/>
<rect x="712.9" y="163.9" width="1.2" height="1.7" fill="#000"/>
<rect x="718.5" y="161.5" width="3.9" height="1.1" fill="#000"/>
<rect x="721.3" y="161.5" width="1.1" height="4.1" fill="#000"/>
<rect x="718.5" y="163.9" width="1.2" height="1.7" fill="#000"/>
<rect x="724.1" y="161.5" width="3.9" height="1.1" fill="#000"/>
<rect x="726.9" y="161.5" width="1.1" height="4.1" fill="#000"/>
<rect x="724.1" y="163.9" width="1.2" height="1.7" fill="#000"/>
<rect x="729.7" y="161.5" width="3.9" height="1.1" fill="#000"/>
<rect x="732.5" y="161.5" width="1.1" height="4.1" fill="#000"/>
<rect x="729.7" y="163.9" width="1.2" height="1.7" fill="#000"/>
<rect x="668.1" y="166.7" width="3.9" height="1.1" fill="#000"/>
<rect x="670.9" y="166.7" width="1.1" height="4.1" fill="#000"/>
<rect x="668.1" y="169.1" width="1.2" height="1.7" fill="#000"/>
<rect x="673.7" y="166.7" width="3.9" height="1.1" fill="#000"/>
<rect x="676.5" y="166.7" width="1.1" height="4.1" fill="#000"/>
<rect x="673.7" y="169.1" width="1.2" height="1.7" fill="#000"/>
<rect x="679.3" y="166.7" width="3.9" height="1.1" fill="#000"/>
<rect x="682.1" y="166.7" width="1.1" height="4.1" fill="#000"/>
<rect x="679.3" y="169.1" width="1.2" height="1.7" fill="#000"/>
<rect x="684.9" y="166.7" width="3.9" height="1.1" fill="#000"/>
<rect x="687.7" y="166.7" width="1.1" height="4.1" fill="#000"/>
<rect x="684.9" y="169.1" width="1.2" height="1.7" fill="#000"/>
<rect x="690.5" y="166.7" width="3.9" height="1.1" fill="#000"/>
<rect x="693.3" y="166.7" width="1.1" height="4.1" fill="#000"/>
<rect x="690.5" y="169.1" width="1.2" height="1.7" fill="#000"/>
<rect x="696.1" y="166.7" width="3.9" height="1.1" fill="#000"/>
<rect x="698.9" y="166.7" width="1.1" height="4.1" fill="#000"/>
<rect x="696.1" y="169.1" width="1.2" height="1.7" fill="#000"/>
<rect x="701.7" y="166.7" width="3.9" height="1.1" fill="#000"/>
<rect x="704.5" y="166.7" width="1.1" height="4.1" fill="#000"/>
<rect x="701.7" y="169.1" width="1.2" height="1.7" fill="#000"/>
<rect x="707.3" y="166.7" width="3.9" height="1.1" fill="#000"/>
<rect x="710.1" y="166.7" width="1.1" height="4.1" fill="#000"/>
<rect x="707.3" y="169.1" width="1.2" height="1.7" fill="#000"/>
<rect x="712.9" y="166.7" width="3.9" height="1.1" fill="#000"/>
<rect x="715.7" y="166.7" width="1.1" height="4.1" fill="#000"/>
<rect x="712.9" y="169.1" width="1.2" height="1.7" fill="#000"/>
<rect x="718.5" y="166.7" width="3.9" height="1.1" fill="#000"/>
<rect x="721.3" y="166.7" width="1.1" height="4.1" fill="#000"/>
<rect x="718.5" y="169.1" width="1.2" height="1.7" fill="#000"/>
<rect x="724.1" y="166.7" width="3.9" height="1.1" fill="#000"/>
<rect x="726.9" y="166.7" width="1.1" height="4.1" fill="#000"/>
<rect x="724.1" y="169.1" width="1.2" height="1.7" fill="#000"/>
<rect x="729.7" y="166.7" width="3.9" height="1.1" fill="#000"/>
<rect x="732.5" y="166.7" width="1.1" height="4.1" fill="#000"/>
<rect x="729.7" y="169.1" width="1.2" height="1.7" fill="#000"/>
<rect x="667" y="69" width="69" height="1"/>
<rect x="667" y="135" width="69" height="1"/>
<rect x="667" y="69" width="1" height="67"/>
<rect x="735" y="69" width="1" height="67"/>
<rect x="669" y="72" width="65" height="1"/>
<rect x="669" y="131" width="65" height="1"/>
<rect x="669" y="72" width="1" height="60"/>
<rect x="733" y="72" width="1" height="60"/>
<rect x="680" y="72" width="1" height="60"/>
<rect x="693" y="72" width="1" height="60"/>
<rect x="708" y="72" width="1" height="60"/>
<rect x="721" y="72" width="1" height="60"/>
<rect x="670.5" y="72" width="2" height="1" fill="#0f0"/>
<rect x="670.5" y="130" width="2" height="1.5" fill="#0f0"/>
<rect x="676.1" y="72" width="2" height="1" fill="#0f0"/>
<rect x="676.1" y="130" width="2" height="1.5" fill="#0f0"/>
<rect x="681.7" y="72" width="2" height="1" fill="#0f0"/>
<rect x="681.7" y="130" width="2" height="1.5" fill="#0f0"/>
<rect x="687.3" y="72" width="2" height="1" fill="#0f0"/>
<rect x="687.3" y="130" width="2" height="1.5" fill="#0f0"/>
<rect x="692.9" y="72" width="2" height="1" fill="#0f0"/>
<rect x="692.9" y="130" width="2" height="1.5" fill="#0f0"/>
<rect x="698.5" y="72" width="2" height="1" fill="#0f0"/>
<rect x="698.5" y="130" width="2" height="1.5" fill="#0f0"/>
<rect x="704.1" y="72" width="2" height="1" fill="#0f0"/>
<rect x="704.1" y="130" width="2" height="1.5" fill="#0f0"/>
<rect x="709.7" y="72" width="2" height="1" fill="#0f0"/>
<rect x="709.7" y="130" width="2" height="1.5" fill="#0f0"/>
<rect x="715.3" y="72" width="2" height="1" fill="#0f0"/>
<rect x="715.3" y="130" width="2" height="1.5" fill="#0f0"/>
<rect x="720.9" y="72" width="2" height="1" fill="#0f0"/>
<rect x="720.9" y="130" width="2" height="1.5" fill="#0f0"/>
<rect x="726.5" y="72" width="2" height="1" fill="#0f0"/>
<rect x="726.5" y="130" width="2" height="1.5" fill="#0f0"/>
<rect x="732.1" y="72" width="2" height="1" fill="#0f0"/>
<rect x="732.1" y="130" width="2" height="1.5" fill="#0f0"/>
<rect x="668.6" y="76" width="1.4" height="1.4" fill="#0f0"/>
<rect x="732.4" y="76" width="1.4" height="1.4" fill="#0f0"/>
<rect x="668.6" y="80.9" width="1.4" height="1.4" fill="#0f0"/>
<rect x="732.4" y="80.9" width="1.4" height="1.4" fill="#0f0"/>
<rect x="668.6" y="85.8" width="1.4" height="1.4" fill="#0f0"/>
<rect x="732.4" y="85.8" width="1.4" height="1.4" fill="#0f0"/>
<rect x="668.6" y="90.7" width="1.4" height="1.4" fill="#0f0"/>
<rect x="732.4" y="90.7" width="1.4" height="1.4" fill="#0f0"/>
<rect x="668.6" y="95.6" width="1.4" height="1.4" fill="#0f0"/>
<rect x="732.4" y="95.6" width="1.4" height="1.4" fill="#0f0"/>
<rect x="668.6" y="100.5" width="1.4" height="1.4" fill="#0f0"/>
<rect x="732.4" y="100.5" width="1.4" height="1.4" fill="#0f0"/>
<rect x="668.6" y="105.4" width="1.4" height="1.4" fill="#0f0"/>
<rect x="732.4" y="105.4" width="1.4" height="1.4" fill="#0f0"/>
<rect x="668.6" y="110.3" width="1.4" height="1.4" fill="#0f0"/>
<rect x="732.4" y="110.3" width="1.4" height="1.4" fill="#0f0"/>
<rect x="668.6" y="115.2" width="1.4" height="1.4" fill="#0f0"/>
<rect x="732.4" y="115.2" width="1.4" height="1.4" fill="#0f0"/>
<rect x="668.6" y="120.1" width="1.4" height="1.4" fill="#0f0"/>
<rect x="732.4" y="120.1" width="1.4" height="1.4" fill="#0f0"/>
<rect x="668.6" y="125" width="1.4" height="1.4" fill="#0f0"/>
<rect x="732.4" y="125" width="1.4" height="1.4" fill="#0f0"/>
<rect x="668.6" y="129.9" width="1.4" height="1.4" fill="#0f0"/>
<rect x="732.4" y="129.9" width="1.4" height="1.4" fill="#0f0"/>
<rect x="669.6" y="84" width="4.4" height="11"/>
<rect x="726.5" y="84" width="4.5" height="11"/>
<rect x="654" y="69" width="1" height="70"/>
<rect x="651" y="69" width="7" height="1"/>
<rect x="663" y="69" width="1" height="1"/>
<rect x="652" y="138" width="102" height="1"/>
<rect x="667" y="138" width="1" height="4"/>
<rect x="669" y="138" width="1" height="4"/>
<rect x="733" y="138" width="1" height="4"/>
<rect x="735" y="138" width="1" height="4"/>
<rect x="669" y="143" width="1" height="1"/>
<rect x="733" y="143" width="1" height="1"/>
<rect x="667" y="147" width="69" height="1"/>
<rect x="667" y="144" width="1" height="7"/>
<rect x="735" y="144" width="1" height="7"/>
<rect x="750" y="54" width="1" height="97"/>
<rect x="748" y="69" width="6" height="1"/>
<rect x="748" y="72" width="6" height="1"/>
<rect x="748" y="76" width="6" height="1"/>
<rect x="748" y="126" width="6" height="1"/>
<rect x="748" y="131" width="6" height="1"/>
<rect x="748" y="135" width="6" height="1"/>
<rect x="748" y="138" width="6" height="1"/>
<rect x="755" y="76" width="1" height="1"/>
<rect x="755" y="126" width="1" height="1"/>
<rect x="527" y="205" width="177" height="1"/>
<rect x="527" y="228" width="177" height="1"/>
<rect x="527" y="240" width="150" height="1"/>
<rect x="527" y="253" width="150" height="1"/>
<rect x="527" y="265" width="150" height="1"/>
<rect x="527" y="277" width="150" height="1"/>
<rect x="527" y="290" width="150" height="1"/>
<rect x="527" y="301" width="150" height="1"/>
<rect x="527" y="313" width="150" height="1"/>
<rect x="527" y="325" width="150" height="1"/>
<rect x="527" y="338" width="150" height="1"/>
<rect x="527" y="350" width="177" height="1"/>
<rect x="527" y="362" width="150" height="1"/>
<rect x="527" y="375" width="150" height="1"/>
<rect x="527" y="387" width="150" height="1"/>
<rect x="527" y="399" width="150" height="1"/>
<rect x="527" y="411" width="150" height="1"/>
<rect x="527" y="422" width="177" height="1"/>
<rect x="527" y="436" width="177" height="1"/>
<rect x="527" y="205" width="1" height="232"/>
<rect x="703" y="205" width="1" height="232"/>
<rect x="545" y="205" width="1" height="218"/>
<rect x="567" y="205" width="1" height="218"/>
<rect x="601" y="205" width="1" height="218"/>
<rect x="620" y="205" width="1" height="218"/>
<rect x="648" y="205" width="1" height="232"/>
<rect x="676" y="205" width="1" height="218"/>
<rect x="590" y="201" width="53" height="1"/>
<rect x="557" y="232" width="7" height="5"/>
<rect x="578" y="232" width="12" height="5"/>
<rect x="607" y="232" width="7" height="5"/>
<rect x="624.5" y="232" width="19" height="5"/>
<rect x="651" y="232" width="21" height="5"/>
<rect x="557" y="244" width="7" height="5"/>
<rect x="579" y="244" width="10" height="5"/>
<rect x="607" y="244" width="7" height="5"/>
<rect x="625.5" y="244" width="17" height="5"/>
<rect x="651" y="244" width="21" height="5"/>
<rect x="557" y="257" width="7" height="5"/>
<rect x="578" y="257" width="12" height="5"/>
<rect x="625.5" y="257" width="17" height="5"/>
<rect x="651" y="257" width="21" height="5"/>
<rect x="557" y="317" width="7" height="5"/>
<rect x="579" y="317" width="10" height="5"/>
<rect x="607" y="317" width="7" height="5"/>
<rect x="625.5" y="317" width="17" height="5"/>
<rect x="651" y="317" width="21" height="5"/>
<rect x="557" y="329" width="7" height="5"/>
<rect x="579" y="329" width="10" height="5"/>
<rect x="607" y="329" width="7" height="5"/>
<rect x="625.5" y="329" width="17" height="5"/>
<rect x="651" y="329" width="21" height="5"/>
<rect x="532" y="341" width="7" height="5"/>
<rect x="557" y="341" width="7" height="5"/>
<rect x="579" y="341" width="10" height="5"/>
<rect x="607" y="341" width="7" height="5"/>
<rect x="625.5" y="341" width="17" height="5"/>
<rect x="651" y="341" width="21" height="5"/>
<rect x="532" y="353" width="7" height="5"/>
<rect x="557" y="353" width="7" height="5"/>
<rect x="578" y="353" width="12" height="5"/>
<rect x="624.5" y="353" width="19" height="5"/>
<rect x="651" y="353" width="21" height="5"/>
<rect x="532" y="415" width="7" height="5"/>
<rect x="557" y="415" width="7" height="5"/>
<rect x="569.5" y="415" width="30.5" height="5"/>
<rect x="607" y="415" width="7" height="5"/>
<rect x="624.5" y="415" width="19" height="5"/>
<rect x="651" y="415" width="21" height="5"/>
<rect x="603" y="514" width="207" height="1"/>
<rect x="603" y="514" width="1" height="56"/>
<rect x="603" y="536" width="207" height="1"/>
<rect x="603" y="547" width="207" height="1"/>
<rect x="603" y="558" width="207" height="1"/>
<rect x="637" y="536" width="1" height="34"/>
<rect x="740" y="547" width="1" height="12"/>
<rect x="757" y="547" width="1" height="12"/>
<rect x="774" y="547" width="1" height="12"/>
<rect x="791" y="547" width="1" height="12"/>
<rect x="672" y="558" width="1" height="12"/>
<rect x="707" y="558" width="1" height="12"/>
<rect x="740" y="558" width="1" height="12"/>
<rect x="774" y="558" width="1" height="12"/>
</g>
<g fill="none" stroke="#fff" shape-rendering="crispEdges">
<line x1="80.5" y1="96.5" x2="196.5" y2="132.5" stroke-width="1"/>
<line x1="83.5" y1="93.8" x2="196.5" y2="129.3" stroke-width="1"/>
<polyline points="140.5,67 140.5,54.5 147,54.5 149.7,65.5 175.7,65.5 179.5,54.5 186,54.5 186,67" stroke-width="1"/>
<polyline points="289.5,67 289.5,54.5 296,54.5 298.7,65.5 324.7,65.5 328.5,54.5 335,54.5 335,67" stroke-width="1"/>
<polyline points="424.5,67 424.5,54.5 430.5,54.5 433.3,66" stroke-width="1"/>
<line x1="255.5" y1="73" x2="310" y2="128" stroke-width="0.87"/>
<rect x="288.5" y="101.5" width="6" height="6" fill="#000" stroke="none" transform="rotate(45 291.5 104.5)"/>
<rect x="281.25" y="96" width="10.5" height="7" fill="#fff" stroke="none" transform="rotate(45 286.5 99.5)"/>
<circle cx="439.5" cy="60.5" r="4.8" stroke-width="1"/>
<circle cx="439.5" cy="139.5" r="4.8" stroke-width="1"/>
<line x1="438.5" y1="66" x2="438.5" y2="134" stroke-width="1" stroke-dasharray="1 2" stroke="#aaa"/>
<line x1="440.5" y1="67.5" x2="440.5" y2="134" stroke-width="1" stroke-dasharray="1 2" stroke="#aaa"/>
<line x1="447" y1="98" x2="451" y2="103.5" stroke-width="0.99"/>
<line x1="451" y1="98" x2="447" y2="103.5" stroke-width="0.99"/>
<polyline points="206.5,159.5 227.5,159.5 228,156.5 233.5,162.5 234,160.5 250,160.5" stroke-width="1"/>
<circle cx="230.5" cy="225" r="23.5" stroke-width="1" stroke-dasharray="5 1.3"/>
<line x1="83.5" y1="318.7" x2="196.5" y2="353.5" stroke-width="1"/>
<line x1="172.5" y1="296" x2="136.14" y2="334.91" stroke-width="0.89"/>
<line x1="192.5" y1="296" x2="151.67" y2="339.69" stroke-width="0.89"/>
<line x1="206.5" y1="296" x2="162.54" y2="343.04" stroke-width="0.89"/>
<line x1="221.5" y1="296" x2="174.18" y2="346.63" stroke-width="0.89"/>
<line x1="125.5" y1="331.33" x2="137.5" y2="335.03" stroke-width="2.6"/>
<line x1="141" y1="336.11" x2="154" y2="340.11" stroke-width="2.6"/>
<line x1="154.5" y1="340.27" x2="166" y2="343.81" stroke-width="2.6"/>
<line x1="167" y1="344.12" x2="177.5" y2="347.35" stroke-width="2.6"/>
<rect x="149.75" y="310" width="6" height="6" fill="#fff" stroke="none" transform="rotate(45 152.75 313)"/>
<rect x="166.5" y="312" width="6" height="6" fill="#fff" stroke="none" transform="rotate(45 169.5 315)"/>
<rect x="179.5" y="314" width="6" height="6" fill="#fff" stroke="none" transform="rotate(45 182.5 317)"/>
<rect x="192.6" y="315.4" width="6" height="6" fill="#fff" stroke="none" transform="rotate(45 195.6 318.4)"/>
<line x1="240.6" y1="296" x2="292.75" y2="353" stroke-width="0.9"/>
<line x1="269.75" y1="296" x2="321.9" y2="353" stroke-width="0.9"/>
<rect x="264" y="319.25" width="9" height="6" fill="#fff" stroke="none" transform="rotate(47.5 268.5 322.25)"/>
<rect x="293" y="319.25" width="9" height="6" fill="#fff" stroke="none" transform="rotate(47.5 297.5 322.25)"/>
<polyline points="439.5,366.5 443,371.5 471,371.5" stroke-width="1"/>
<circle cx="475.5" cy="372" r="4.6" stroke-width="1"/>
<polyline points="302.5,392 305,397.5 334,397.5" stroke-width="1"/>
<circle cx="339.3" cy="397" r="4.6" stroke-width="1"/>
<line x1="319" y1="391" x2="321.5" y2="389" stroke-width="0.95"/>
<line x1="455.5" y1="366" x2="458" y2="364" stroke-width="0.95"/>
<line x1="454" y1="463" x2="456.5" y2="461" stroke-width="0.95"/>
<line x1="454" y1="504" x2="456.5" y2="502" stroke-width="0.95"/>
<line x1="254.5" y1="407.5" x2="310.5" y2="463.5" stroke-width="0.86"/>
<rect x="275.7" y="430.9" width="18" height="5" fill="#fff" stroke="none" transform="rotate(45 284.7 433.4)"/>
<polyline points="439.5,463.5 442,469.5 471,469.5" stroke-width="1"/>
<circle cx="475.6" cy="469.5" r="4.7" stroke-width="1"/>
<polyline points="439.5,478.5 442,484.5 471,484.5" stroke-width="1"/>
<circle cx="475.6" cy="484.5" r="4.7" stroke-width="1"/>
<line x1="84.5" y1="456.5" x2="196.5" y2="491.3" stroke-width="1"/>
<rect x="133.9" y="468.1" width="16" height="5" fill="#fff" stroke="none" transform="rotate(17.3 141.9 470.6)"/>
<polyline points="125.5,474.5 125.5,482.5 155,482.5" stroke-width="1"/>
<line x1="125.5" y1="474.5" x2="155" y2="482.5" stroke-width="0.8"/>
<polyline points="439.5,491.5 442,497.5 471,497.5" stroke-width="1"/>
<circle cx="475.6" cy="497.5" r="4.7" stroke-width="1"/>
<polyline points="439.5,503.5 442,509.5 471,509.5" stroke-width="1"/>
<circle cx="475.6" cy="509.5" r="4.7" stroke-width="1"/>
<polyline points="423,516.5 426.3,522.5 464,522.5" stroke-width="1"/>
<circle cx="468.8" cy="522.5" r="4.6" stroke-width="1"/>
<polyline points="520.5,72 520.5,67.5 543.5,67.5 543.5,72" stroke-width="1"/>
<polyline points="558.5,72 558.5,67.5 582.5,67.5 582.5,72" stroke-width="1"/>
<polyline points="531.5,72 531.5,65.5 571.5,65.5 571.5,72" stroke-width="1"/>
</g>
<g style="opacity:0.999">
<text x="263.5" y="38" font-size="7.5" text-anchor="middle" textLength="19.5" lengthAdjust="spacingAndGlyphs" class="b">1886/2</text>
<text x="414" y="140" font-size="6.2" textLength="7" lengthAdjust="spacingAndGlyphs" class="b">N5</text>
<text x="451.5" y="57.5" font-size="12" text-anchor="middle" textLength="7" lengthAdjust="spacingAndGlyphs" class="s b" style="stroke-width:0.7px">II</text>
<text x="451.3" y="152.5" font-size="12" text-anchor="middle" textLength="7" lengthAdjust="spacingAndGlyphs" class="s b" style="stroke-width:0.7px">II</text>
<text x="52" y="101" font-size="6.5" text-anchor="middle" textLength="8" lengthAdjust="spacingAndGlyphs" transform="rotate(-90 52 101)" style="stroke-width:.55px" class="b">155</text>
<text x="63.3" y="83" font-size="6.5" text-anchor="middle" textLength="6.3" lengthAdjust="spacingAndGlyphs" transform="rotate(-90 63.3 83)" style="stroke-width:.55px" class="b">80</text>
<text x="63.3" y="115.5" font-size="6.5" text-anchor="middle" textLength="6.3" lengthAdjust="spacingAndGlyphs" transform="rotate(-90 63.3 115.5)" style="stroke-width:.55px" class="b">75</text>
<text x="138.2" y="139" font-size="7" text-anchor="middle" textLength="15" lengthAdjust="spacingAndGlyphs" class="b">141.4</text>
<text x="155.5" y="148" font-size="7" text-anchor="middle" textLength="15" lengthAdjust="spacingAndGlyphs" class="b">212.5</text>
<text x="338" y="148" font-size="7" text-anchor="middle" textLength="15" lengthAdjust="spacingAndGlyphs" class="b">900/2</text>
<text x="263.5" y="168.8" font-size="10.5" text-anchor="middle" textLength="29" lengthAdjust="spacingAndGlyphs" class="s m">半平面</text>
<text x="59.6" y="182.5" font-size="7.5" text-anchor="middle" textLength="9" lengthAdjust="spacingAndGlyphs" transform="rotate(-90 59.6 182.5)" style="stroke-width:.55px" class="b">6.5</text>
<text x="48.6" y="226.5" font-size="7.5" text-anchor="middle" textLength="9" lengthAdjust="spacingAndGlyphs" transform="rotate(-90 48.6 226.5)" style="stroke-width:.55px" class="b">140</text>
<text x="59.6" y="226.5" font-size="7.5" text-anchor="middle" textLength="9" lengthAdjust="spacingAndGlyphs" transform="rotate(-90 59.6 226.5)" style="stroke-width:.55px" class="b">127</text>
<text x="59.6" y="270" font-size="7.5" text-anchor="middle" textLength="9" lengthAdjust="spacingAndGlyphs" transform="rotate(-90 59.6 270)" style="stroke-width:.55px" class="b">6.5</text>
<text x="66" y="266" font-size="7" textLength="9" lengthAdjust="spacingAndGlyphs" class="b">6.5</text>
<text x="112.5" y="266" font-size="7" textLength="54" lengthAdjust="spacingAndGlyphs" class="b" style="stroke-width:0.5px">2×2.5+4×7.5+10×10</text>
<text x="312" y="266" font-size="7" textLength="19" lengthAdjust="spacingAndGlyphs" class="b">50X10</text>
<text x="182.5" y="283" font-size="6.2" text-anchor="middle" textLength="5.8" lengthAdjust="spacingAndGlyphs" class="b">40</text>
<text x="199.5" y="283" font-size="6.2" text-anchor="middle" textLength="5.8" lengthAdjust="spacingAndGlyphs" class="b">30</text>
<text x="214" y="283" font-size="6.2" text-anchor="middle" textLength="5.8" lengthAdjust="spacingAndGlyphs" class="b">30</text>
<text x="226" y="283" font-size="6.2" text-anchor="middle" textLength="5.8" lengthAdjust="spacingAndGlyphs" class="b">20</text>
<text x="235.5" y="283" font-size="6.2" text-anchor="middle" textLength="5.8" lengthAdjust="spacingAndGlyphs" class="b">20</text>
<text x="255" y="283" font-size="6.2" text-anchor="middle" textLength="5.8" lengthAdjust="spacingAndGlyphs" class="b">40</text>
<text x="81.5" y="378" font-size="6" text-anchor="middle" textLength="6" lengthAdjust="spacingAndGlyphs" transform="rotate(-90 81.5 378)" style="stroke-width:.55px" class="b">47</text>
<text x="448" y="484" font-size="6.5" textLength="17" lengthAdjust="spacingAndGlyphs" class="b">n⌀20</text>
<text x="451" y="490.8" font-size="6.2" textLength="10" lengthAdjust="spacingAndGlyphs" class="b">500</text>
<text x="349" y="478" font-size="5.5" textLength="9" lengthAdjust="spacingAndGlyphs" class="b">500</text>
<text x="123.5" y="480" font-size="5.5" text-anchor="middle" transform="rotate(-90 123.5 480)" style="stroke-width:.55px" class="b">1</text>
<text x="139.5" y="489.7" font-size="6.4" text-anchor="middle" textLength="17" lengthAdjust="spacingAndGlyphs" class="b">3.239</text>
<text x="265" y="503.7" font-size="6.5" text-anchor="middle" textLength="20" lengthAdjust="spacingAndGlyphs" class="b">1538/2</text>
<text x="450.6" y="516" font-size="6.5" textLength="12" lengthAdjust="spacingAndGlyphs" class="b">1540</text>
<text x="435.6" y="522" font-size="5.5" textLength="19" lengthAdjust="spacingAndGlyphs" class="b">14 d 15</text>
<text x="475.5" y="374.1" font-size="5.8" text-anchor="middle" class="b">1</text>
<text x="339.3" y="399.1" font-size="5.8" text-anchor="middle" class="b">2</text>
<text x="475.6" y="471.6" font-size="5.8" text-anchor="middle" class="b">3</text>
<text x="475.6" y="486.6" font-size="5.8" text-anchor="middle" class="b">4</text>
<text x="475.6" y="499.6" font-size="5.8" text-anchor="middle" class="b">5</text>
<text x="475.6" y="511.6" font-size="5.8" text-anchor="middle" class="b">6</text>
<text x="468.8" y="524.6" font-size="5.8" text-anchor="middle" class="b">7</text>
<text x="263.5" y="555.3" font-size="10" text-anchor="middle" textLength="28.5" lengthAdjust="spacingAndGlyphs" class="s b">半立面</text>
<text x="552" y="45" font-size="12.5" text-anchor="middle" textLength="20" lengthAdjust="spacing" class="s b">I-I</text>
<text x="525" y="96.5" font-size="6.5" text-anchor="middle" textLength="10.5" lengthAdjust="spacingAndGlyphs" transform="rotate(-90 525 96.5)" style="stroke-width:.55px" class="b">N3</text>
<text x="530.2" y="119.5" font-size="6.5" text-anchor="middle" textLength="10.5" lengthAdjust="spacingAndGlyphs" transform="rotate(-90 530.2 119.5)" style="stroke-width:.55px" class="b">N14</text>
<text x="503.6" y="108" font-size="7.5" text-anchor="middle" textLength="9" lengthAdjust="spacingAndGlyphs" transform="rotate(-90 503.6 108)" style="stroke-width:.55px" class="b">150</text>
<text x="502.5" y="143.8" font-size="7" textLength="10" lengthAdjust="spacingAndGlyphs" class="b">5.5</text>
<text x="523.5" y="144" font-size="8.5" textLength="58" lengthAdjust="spacingAndGlyphs" class="b" style="stroke-width:0.6px">2×5.5 3×7.5 8×10 3×7.5 2×5.5</text>
<text x="551.5" y="152.8" font-size="7" text-anchor="middle" textLength="9" lengthAdjust="spacingAndGlyphs" class="b">140</text>
<text x="599" y="65.5" font-size="7.8" text-anchor="middle" textLength="8.5" lengthAdjust="spacingAndGlyphs" transform="rotate(-90 599 65.5)" style="stroke-width:.55px" class="b">5.5</text>
<text x="599" y="81.5" font-size="7.8" text-anchor="middle" textLength="6" lengthAdjust="spacingAndGlyphs" transform="rotate(-90 599 81.5)" style="stroke-width:.55px" class="b">11</text>
<text x="599" y="108.5" font-size="7.8" text-anchor="middle" textLength="19" lengthAdjust="spacingAndGlyphs" transform="rotate(-90 599 108.5)" style="stroke-width:.55px" class="b">10X10</text>
<text x="599" y="135.5" font-size="7.8" text-anchor="middle" textLength="6" lengthAdjust="spacingAndGlyphs" transform="rotate(-90 599 135.5)" style="stroke-width:.55px" class="b">11</text>
<text x="599" y="150" font-size="7.8" text-anchor="middle" textLength="8.5" lengthAdjust="spacingAndGlyphs" transform="rotate(-90 599 150)" style="stroke-width:.55px" class="b">5.5</text>
<text x="588.5" y="143.5" font-size="6.5" textLength="8.5" lengthAdjust="spacingAndGlyphs" class="b">5.5</text>
<text x="701" y="45" font-size="12" text-anchor="middle" textLength="23.5" lengthAdjust="spacingAndGlyphs" class="s b">II–II</text>
<text x="680.2" y="114.5" font-size="6.5" text-anchor="middle" textLength="10.5" lengthAdjust="spacingAndGlyphs" transform="rotate(-90 680.2 114.5)" style="stroke-width:.55px" class="b">N4</text>
<text x="653.6" y="102.5" font-size="7.5" text-anchor="middle" textLength="9" lengthAdjust="spacingAndGlyphs" transform="rotate(-90 653.6 102.5)" style="stroke-width:.55px" class="b">135</text>
<text x="652.5" y="137.8" font-size="7" textLength="10" lengthAdjust="spacingAndGlyphs" class="b">4.4</text>
<text x="671" y="137.8" font-size="8.5" textLength="59.5" lengthAdjust="spacingAndGlyphs" class="b" style="stroke-width:0.6px">2×4.4 3×7.5 8×10 3×7.5 2×4.4</text>
<text x="701" y="146.8" font-size="7" text-anchor="middle" textLength="9" lengthAdjust="spacingAndGlyphs" class="b">140</text>
<text x="750" y="60.5" font-size="7.8" text-anchor="middle" textLength="8.5" lengthAdjust="spacingAndGlyphs" transform="rotate(-90 750 60.5)" style="stroke-width:.55px" class="b">4.4</text>
<text x="750" y="76" font-size="7.8" text-anchor="middle" textLength="6" lengthAdjust="spacingAndGlyphs" transform="rotate(-90 750 76)" style="stroke-width:.55px" class="b">11</text>
<text x="750" y="101" font-size="7.8" text-anchor="middle" textLength="19" lengthAdjust="spacingAndGlyphs" transform="rotate(-90 750 101)" style="stroke-width:.55px" class="b">10X10</text>
<text x="750" y="130" font-size="7.8" text-anchor="middle" textLength="6" lengthAdjust="spacingAndGlyphs" transform="rotate(-90 750 130)" style="stroke-width:.55px" class="b">11</text>
<text x="750" y="145" font-size="7.8" text-anchor="middle" textLength="8.5" lengthAdjust="spacingAndGlyphs" transform="rotate(-90 750 145)" style="stroke-width:.55px" class="b">4.4</text>
<text x="739.5" y="137.5" font-size="6.5" textLength="8.5" lengthAdjust="spacingAndGlyphs" class="b">4.4</text>
<text x="615" y="200.8" font-size="7.2" text-anchor="middle" textLength="68" lengthAdjust="spacingAndGlyphs" class="b">一个桥墩盖梁材料数量表</text>
<text x="536" y="217.5" font-size="10.5" text-anchor="middle" textLength="9" lengthAdjust="spacingAndGlyphs" class="s b">编</text>
<text x="536" y="227" font-size="9" text-anchor="middle" textLength="8.5" lengthAdjust="spacingAndGlyphs" class="s b">号</text>
<text x="546" y="217.8" font-size="10.5" textLength="8.5" lengthAdjust="spacingAndGlyphs" class="s b">直</text>
<text x="558.5" y="217.8" font-size="10.5" textLength="8.5" lengthAdjust="spacingAndGlyphs" class="s b">径</text>
<text x="568" y="217.8" font-size="10.5" textLength="33" lengthAdjust="spacingAndGlyphs" class="s b">每根长度</text>
<text x="601.5" y="217.8" font-size="10.5" textLength="8.5" lengthAdjust="spacingAndGlyphs" class="s b">根</text>
<text x="613" y="217.8" font-size="10.5" textLength="8.5" lengthAdjust="spacingAndGlyphs" class="s b">数</text>
<text x="623" y="217.8" font-size="10.5" textLength="9.5" lengthAdjust="spacingAndGlyphs" class="s b">共</text>
<text x="638" y="217.8" font-size="10.5" textLength="9.5" lengthAdjust="spacingAndGlyphs" class="s b">长</text>
<text x="650.5" y="217.8" font-size="10.5" textLength="9.5" lengthAdjust="spacingAndGlyphs" class="s b">共</text>
<text x="666" y="217.8" font-size="10.5" textLength="9.5" lengthAdjust="spacingAndGlyphs" class="s b">重</text>
<text x="678.5" y="217.8" font-size="10.5" textLength="9.5" lengthAdjust="spacingAndGlyphs" class="s b">总</text>
<text x="693.5" y="217.8" font-size="10.5" textLength="9.5" lengthAdjust="spacingAndGlyphs" class="s b">重</text>
<text x="557" y="226.7" font-size="8" text-anchor="middle" textLength="21" lengthAdjust="spacingAndGlyphs" class="s b">(mm)</text>
<text x="584.5" y="226.7" font-size="8" text-anchor="middle" textLength="21" lengthAdjust="spacingAndGlyphs" class="s b">(cm)</text>
<text x="635.5" y="226.7" font-size="8" text-anchor="middle" textLength="20" lengthAdjust="spacingAndGlyphs" class="s b">(m)</text>
<text x="662.5" y="226.7" font-size="8" text-anchor="middle" textLength="23" lengthAdjust="spacingAndGlyphs" class="s b">(kg)</text>
<text x="690.5" y="226.7" font-size="8" text-anchor="middle" textLength="23" lengthAdjust="spacingAndGlyphs" class="s b">(kg)</text>
<text x="535.5" y="237.3" font-size="6" text-anchor="middle" textLength="3.45" lengthAdjust="spacingAndGlyphs" class="b">1</text>
<text x="535.5" y="249.8" font-size="6" text-anchor="middle" textLength="3.45" lengthAdjust="spacingAndGlyphs" class="b">2</text>
<text x="535.5" y="262.3" font-size="6" text-anchor="middle" textLength="3.45" lengthAdjust="spacingAndGlyphs" class="b">3</text>
<text x="610.5" y="262.3" font-size="6" text-anchor="middle" textLength="3.45" lengthAdjust="spacingAndGlyphs" class="b">4</text>
<text x="535.5" y="274.3" font-size="6" text-anchor="middle" textLength="3.45" lengthAdjust="spacingAndGlyphs" class="b">4</text>
<text x="560.5" y="274.3" font-size="6" text-anchor="middle" textLength="6.9" lengthAdjust="spacingAndGlyphs" class="b">25</text>
<text x="584" y="274.3" font-size="6" text-anchor="middle" textLength="10.35" lengthAdjust="spacingAndGlyphs" class="b">834</text>
<text x="610.5" y="274.3" font-size="6" text-anchor="middle" textLength="3.45" lengthAdjust="spacingAndGlyphs" class="b">4</text>
<text x="634" y="274.3" font-size="6" text-anchor="middle" textLength="17.25" lengthAdjust="spacingAndGlyphs" class="b">33.36</text>
<text x="661.5" y="274.3" font-size="6" text-anchor="middle" textLength="20.7" lengthAdjust="spacingAndGlyphs" class="b">128.12</text>
<text x="535.5" y="286.8" font-size="6" text-anchor="middle" textLength="3.45" lengthAdjust="spacingAndGlyphs" class="b">5</text>
<text x="560.5" y="286.8" font-size="6" text-anchor="middle" textLength="6.9" lengthAdjust="spacingAndGlyphs" class="b">25</text>
<text x="584" y="286.8" font-size="6" text-anchor="middle" textLength="13.8" lengthAdjust="spacingAndGlyphs" class="b">1570</text>
<text x="610.5" y="286.8" font-size="6" text-anchor="middle" textLength="6.9" lengthAdjust="spacingAndGlyphs" class="b">12</text>
<text x="634" y="286.8" font-size="6" text-anchor="middle" textLength="20.7" lengthAdjust="spacingAndGlyphs" class="b">188.40</text>
<text x="661.5" y="286.8" font-size="6" text-anchor="middle" textLength="20.7" lengthAdjust="spacingAndGlyphs" class="b">725.34</text>
<text x="535.5" y="298.8" font-size="6" text-anchor="middle" textLength="3.45" lengthAdjust="spacingAndGlyphs" class="b">6</text>
<text x="560.5" y="298.8" font-size="6" text-anchor="middle" textLength="6.9" lengthAdjust="spacingAndGlyphs" class="b">25</text>
<text x="584" y="298.8" font-size="6" text-anchor="middle" textLength="10.35" lengthAdjust="spacingAndGlyphs" class="b">159</text>
<text x="610.5" y="298.8" font-size="6" text-anchor="middle" textLength="6.9" lengthAdjust="spacingAndGlyphs" class="b">12</text>
<text x="634" y="298.8" font-size="6" text-anchor="middle" textLength="17.25" lengthAdjust="spacingAndGlyphs" class="b">19.08</text>
<text x="661.5" y="298.8" font-size="6" text-anchor="middle" textLength="17.25" lengthAdjust="spacingAndGlyphs" class="b">73.46</text>
<text x="535.5" y="310.3" font-size="6" text-anchor="middle" textLength="3.45" lengthAdjust="spacingAndGlyphs" class="b">7</text>
<text x="560.5" y="310.3" font-size="6" text-anchor="middle" textLength="6.9" lengthAdjust="spacingAndGlyphs" class="b">25</text>
<text x="584" y="310.3" font-size="6" text-anchor="middle" textLength="10.35" lengthAdjust="spacingAndGlyphs" class="b">172</text>
<text x="610.5" y="310.3" font-size="6" text-anchor="middle" textLength="6.9" lengthAdjust="spacingAndGlyphs" class="b">12</text>
<text x="634" y="310.3" font-size="6" text-anchor="middle" textLength="17.25" lengthAdjust="spacingAndGlyphs" class="b">20.64</text>
<text x="661.5" y="310.3" font-size="6" text-anchor="middle" textLength="17.25" lengthAdjust="spacingAndGlyphs" class="b">79.46</text>
<text x="535.5" y="322.3" font-size="6" text-anchor="middle" textLength="3.45" lengthAdjust="spacingAndGlyphs" class="b">8</text>
<text x="535.5" y="334.8" font-size="6" text-anchor="middle" textLength="3.45" lengthAdjust="spacingAndGlyphs" class="b">9</text>
<text x="610.5" y="359.3" font-size="6" text-anchor="middle" textLength="3.45" lengthAdjust="spacingAndGlyphs" class="b">4</text>
<text x="535.5" y="371.8" font-size="6" text-anchor="middle" textLength="6.9" lengthAdjust="spacingAndGlyphs" class="b">12</text>
<text x="560.5" y="371.8" font-size="6" text-anchor="middle" textLength="6.9" lengthAdjust="spacingAndGlyphs" class="b">12</text>
<text x="584" y="371.8" font-size="6" text-anchor="middle" textLength="31" lengthAdjust="spacingAndGlyphs" class="b">1543(平均)</text>
<text x="610.5" y="371.8" font-size="6" text-anchor="middle" textLength="6.9" lengthAdjust="spacingAndGlyphs" class="b">14</text>
<text x="634" y="371.8" font-size="6" text-anchor="middle" textLength="20.7" lengthAdjust="spacingAndGlyphs" class="b">216.02</text>
<text x="661.5" y="371.8" font-size="6" text-anchor="middle" textLength="20.7" lengthAdjust="spacingAndGlyphs" class="b">191.83</text>
<text x="535.5" y="384.3" font-size="6" text-anchor="middle" textLength="6.9" lengthAdjust="spacingAndGlyphs" class="b">13</text>
<text x="560.5" y="384.3" font-size="6" text-anchor="middle" textLength="6.9" lengthAdjust="spacingAndGlyphs" class="b">12</text>
<text x="584" y="384.3" font-size="6" text-anchor="middle" textLength="10.35" lengthAdjust="spacingAndGlyphs" class="b">260</text>
<text x="610.5" y="384.3" font-size="6" text-anchor="middle" textLength="10.35" lengthAdjust="spacingAndGlyphs" class="b">310</text>
<text x="634" y="384.3" font-size="6" text-anchor="middle" textLength="20.7" lengthAdjust="spacingAndGlyphs" class="b">810.60</text>
<text x="661.5" y="384.3" font-size="6" text-anchor="middle" textLength="20.7" lengthAdjust="spacingAndGlyphs" class="b">719.81</text>
<text x="535.5" y="396.3" font-size="6" text-anchor="middle" textLength="6.9" lengthAdjust="spacingAndGlyphs" class="b">14</text>
<text x="560.5" y="396.3" font-size="6" text-anchor="middle" textLength="6.9" lengthAdjust="spacingAndGlyphs" class="b">12</text>
<text x="584" y="396.3" font-size="6" text-anchor="middle" textLength="10.35" lengthAdjust="spacingAndGlyphs" class="b">455</text>
<text x="610.5" y="396.3" font-size="6" text-anchor="middle" textLength="10.35" lengthAdjust="spacingAndGlyphs" class="b">105</text>
<text x="634" y="396.3" font-size="6" text-anchor="middle" textLength="20.7" lengthAdjust="spacingAndGlyphs" class="b">477.75</text>
<text x="661.5" y="396.3" font-size="6" text-anchor="middle" textLength="20.7" lengthAdjust="spacingAndGlyphs" class="b">424.24</text>
<text x="535.5" y="408.3" font-size="6" text-anchor="middle" textLength="6.9" lengthAdjust="spacingAndGlyphs" class="b">15</text>
<text x="560.5" y="408.3" font-size="6" text-anchor="middle" textLength="6.9" lengthAdjust="spacingAndGlyphs" class="b">12</text>
<text x="584" y="408.3" font-size="6" text-anchor="middle" textLength="31" lengthAdjust="spacingAndGlyphs" class="b">209(平均)</text>
<text x="610.5" y="408.3" font-size="6" text-anchor="middle" textLength="6.9" lengthAdjust="spacingAndGlyphs" class="b">92</text>
<text x="634" y="408.3" font-size="6" text-anchor="middle" textLength="20.7" lengthAdjust="spacingAndGlyphs" class="b">384.28</text>
<text x="661.5" y="408.3" font-size="6" text-anchor="middle" textLength="20.7" lengthAdjust="spacingAndGlyphs" class="b">341.44</text>
<text x="690" y="293" font-size="6" text-anchor="middle" textLength="24" lengthAdjust="spacingAndGlyphs" class="b">2663.44</text>
<text x="690" y="390.5" font-size="6" text-anchor="middle" textLength="24" lengthAdjust="spacingAndGlyphs" class="b">1826.10</text>
<text x="599" y="434.5" font-size="10" text-anchor="middle" textLength="59" lengthAdjust="spacingAndGlyphs" class="s b">C40 混 凝 土</text>
<text x="676" y="432" font-size="6" text-anchor="middle" textLength="17" lengthAdjust="spacingAndGlyphs" class="b">23.25</text>
<text x="566" y="457.8" font-size="7.4" textLength="17" lengthAdjust="spacingAndGlyphs" class="s b">附注:</text>
<text x="566" y="468.6" font-size="7.4" textLength="187" lengthAdjust="spacingAndGlyphs" class="s b">1、本图尺寸除钢筋直径以毫米计外，余均以厘米为单位。</text>
<text x="566" y="479" font-size="7.4" textLength="147.5" lengthAdjust="spacingAndGlyphs" class="s b">2、在支座位置处，钢筋遇应避让4cm钢筋网。</text>
<text x="566" y="489.6" font-size="7.4" textLength="157.5" lengthAdjust="spacingAndGlyphs" class="s b">3、焊接钢筋骨架采用双面焊，焊缝长度为5d。</text>
<text x="705.5" y="524.2" font-size="7" text-anchor="middle" textLength="118" lengthAdjust="spacing">天 津 大 学 仁 爱 学 院</text>
<text x="708" y="533.8" font-size="7" text-anchor="middle" textLength="172" lengthAdjust="spacing">建 筑 工 程 系 土 木 工 程 专 业 课 程 设 计</text>
<text x="620" y="545" font-size="7" text-anchor="middle" textLength="20" lengthAdjust="spacing">题   目</text>
<text x="722" y="545" font-size="7" text-anchor="middle" textLength="96" lengthAdjust="spacingAndGlyphs">石黄高速K4+800桥梁施工图设计</text>
<text x="620" y="556.2" font-size="7" text-anchor="middle" textLength="28" lengthAdjust="spacingAndGlyphs">图纸内容</text>
<text x="682" y="556.2" font-size="7" text-anchor="middle" textLength="35" lengthAdjust="spacingAndGlyphs">墩梁配筋图</text>
<text x="749" y="556.2" font-size="7" text-anchor="middle" textLength="14" lengthAdjust="spacingAndGlyphs">成绩</text>
<text x="783" y="556.2" font-size="7" text-anchor="middle" textLength="14" lengthAdjust="spacingAndGlyphs">日期</text>
<text x="800.5" y="555" font-size="7" text-anchor="middle" textLength="15" lengthAdjust="spacingAndGlyphs">5.10</text>
<text x="619" y="567.4" font-size="7" text-anchor="middle" textLength="20" lengthAdjust="spacingAndGlyphs">系主任</text>
<text x="654" y="567.4" font-size="7" text-anchor="middle" textLength="21" lengthAdjust="spacingAndGlyphs">杨建江</text>
<text x="689.5" y="567.4" font-size="7" text-anchor="middle" textLength="28" lengthAdjust="spacingAndGlyphs">指导老师</text>
<text x="719" y="567.4" font-size="7" text-anchor="middle" textLength="14" lengthAdjust="spacingAndGlyphs">苏雷</text>
<text x="756.5" y="567.4" font-size="7" text-anchor="middle" textLength="28" lengthAdjust="spacingAndGlyphs">学生姓名</text>
<text x="791" y="567.4" font-size="7" text-anchor="middle" textLength="21" lengthAdjust="spacingAndGlyphs">石坤毅</text>
</g>
</svg>
</body></html>
